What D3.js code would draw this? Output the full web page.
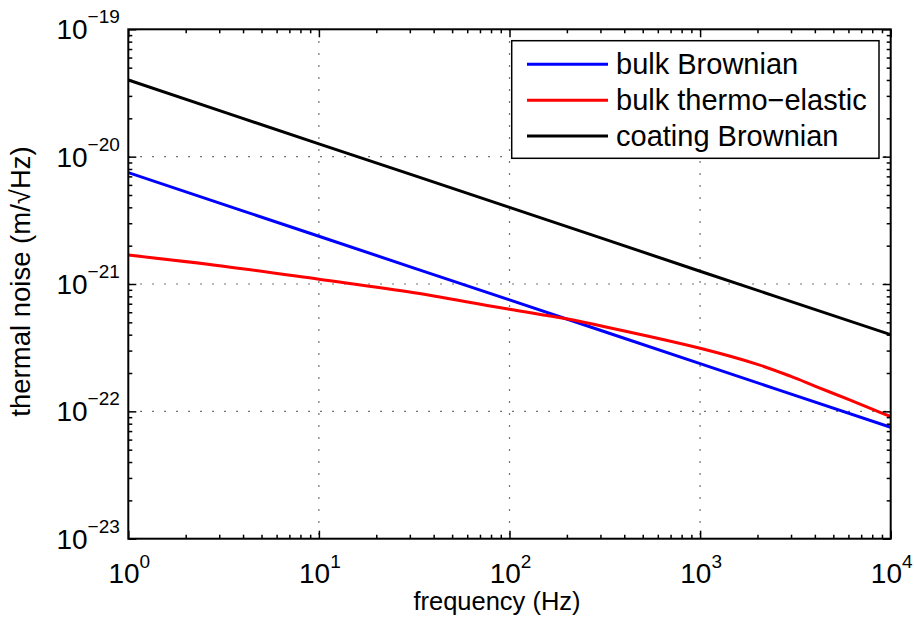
<!DOCTYPE html>
<html>
<head>
<meta charset="utf-8">
<script src="https://cdn.jsdelivr.net/npm/d3@7"></script>
<style>
  body { margin: 0; background: #fff; }
  svg { font-family: "Liberation Sans", Arial, sans-serif; }
</style>
</head>
<body>
<svg id="chart"></svg>
<script>
// decade frequencies for the straight power-law curves
const freq = [1, 10, 100, 1000, 10000];
const bulkBrownian = [7.5e-21, 2.37e-21, 7.5e-22, 2.37e-22, 7.5e-23];
const coatingBrownian = [4.0e-20, 1.26e-20, 4.0e-21, 1.26e-21, 4.0e-22];

// thermo-elastic curve bends, so more points
const thermoFreq = [1, 3.16, 10, 31.6, 100, 195, 316, 1000, 2000, 3000, 4000, 6000, 8000, 10000];
const thermoElastic = [1.69e-21, 1.38e-21, 1.09e-21, 8.55e-22, 6.33e-22, 5.35e-22, 4.62e-22,
                       3.13e-22, 2.34e-22, 1.88e-22, 1.58e-22, 1.24e-22, 1.04e-22, 9.1e-23];

const seriesNames = ['bulk Brownian', 'bulk thermo\u2212elastic', 'coating Brownian'];
const seriesColors = ['#0000ff', '#ff0000', '#000000'];

const xTickExp = [0, 1, 2, 3, 4];
const yTickExp = [-19, -20, -21, -22, -23];

const width = 914, height = 624;
const margin = {top: 29.3, right: 23.3, bottom: 85.3, left: 128.3};
const innerW = width - margin.left - margin.right;
const innerH = height - margin.top - margin.bottom;

const svg = d3.select('#chart')
    .attr('width', width)
    .attr('height', height);

const chart = svg.append('g')
    .attr('transform', `translate(${margin.left},${margin.top})`);

const xScale = d3.scaleLog().domain([1, 1e4]).range([0, innerW]);
const yScale = d3.scaleLog().domain([1e-23, 1e-19]).range([innerH, 0]);

// dotted grid at the decades
chart.append('g').selectAll('line')
    .data(xTickExp.slice(1, -1))
  .join('line')
    .attr('x1', d => xScale(Math.pow(10, d)))
    .attr('x2', d => xScale(Math.pow(10, d)))
    .attr('y1', 0).attr('y2', innerH)
    .attr('stroke', '#444').attr('stroke-width', 1.2)
    .attr('stroke-dasharray', '1.5,10.5');

chart.append('g').selectAll('line')
    .data(yTickExp.slice(1, -1))
  .join('line')
    .attr('y1', d => yScale(Math.pow(10, d)))
    .attr('y2', d => yScale(Math.pow(10, d)))
    .attr('x1', 0).attr('x2', innerW)
    .attr('stroke', '#444').attr('stroke-width', 1.2)
    .attr('stroke-dasharray', '1.5,10.5');

// curves
svg.append('defs').append('clipPath').attr('id', 'clip')
  .append('rect').attr('width', innerW).attr('height', innerH);

const line = d3.line()
    .x(d => xScale(d[0]))
    .y(d => yScale(d[1]))
    .curve(d3.curveCatmullRom.alpha(0.5));

const curves = [
  freq.map((f, i) => [f, bulkBrownian[i]]),
  thermoFreq.map((f, i) => [f, thermoElastic[i]]),
  freq.map((f, i) => [f, coatingBrownian[i]])
];

chart.append('g').attr('clip-path', 'url(#clip)')
  .selectAll('path')
    .data(curves)
  .join('path')
    .attr('d', line)
    .attr('fill', 'none')
    .attr('stroke', (d, i) => seriesColors[i])
    .attr('stroke-width', 3);

// ticks: major at decades, minor 2..9, inside on all four sides
const xMinor = [], yMinor = [];
for (let e = 0; e < 4; e++) for (let m = 2; m <= 9; m++) xMinor.push(m * Math.pow(10, e));
for (let e = -23; e < -19; e++) for (let m = 2; m <= 9; m++) yMinor.push(m * Math.pow(10, e));

const xMajor = xTickExp.map(e => Math.pow(10, e));
const yMajor = yTickExp.map(e => Math.pow(10, e));

const axes = chart.append('g').attr('class', 'axes');
[[d3.axisBottom(xScale).tickValues(xMajor).tickSize(-8), 0, innerH],
 [d3.axisBottom(xScale).tickValues(xMinor).tickSize(-4), 0, innerH],
 [d3.axisTop(xScale).tickValues(xMajor).tickSize(-8), 0, 0],
 [d3.axisTop(xScale).tickValues(xMinor).tickSize(-4), 0, 0],
 [d3.axisLeft(yScale).tickValues(yMajor).tickSize(-8), 0, 0],
 [d3.axisLeft(yScale).tickValues(yMinor).tickSize(-4), 0, 0],
 [d3.axisRight(yScale).tickValues(yMajor).tickSize(-8), innerW, 0],
 [d3.axisRight(yScale).tickValues(yMinor).tickSize(-4), innerW, 0]]
  .forEach(([ax, tx, ty]) => {
    const g = axes.append('g')
        .attr('transform', `translate(${tx},${ty})`)
        .call(ax.tickFormat(''));
    g.select('.domain').remove();
    g.selectAll('line').attr('stroke', '#000').attr('stroke-width', 1.5);
  });

// axis box
chart.append('rect')
    .attr('width', innerW).attr('height', innerH)
    .attr('fill', 'none').attr('stroke', '#000').attr('stroke-width', 2);

// tick labels 10^n
chart.append('g').selectAll('text')
    .data(xTickExp)
  .join('text')
    .attr('x', d => xScale(Math.pow(10, d)) + 1)
    .attr('y', innerH + 44.5)
    .attr('text-anchor', 'middle')
    .attr('font-size', 28)
    .attr('fill', '#000')
    .each(function(d) {
      const t = d3.select(this);
      t.append('tspan').text('10');
      t.append('tspan').attr('dy', -15).attr('font-size', 19).text(d);
    });

chart.append('g').selectAll('text')
    .data(yTickExp)
  .join('text')
    .attr('x', -8.5)
    .attr('y', d => yScale(Math.pow(10, d)) + 10)
    .attr('text-anchor', 'end')
    .attr('font-size', 28)
    .attr('fill', '#000')
    .each(function(d) {
      const t = d3.select(this);
      t.append('tspan').text('10');
      t.append('tspan').attr('dy', -16).attr('font-size', 19).text('\u2212' + Math.abs(d));
    });

// axis titles
svg.append('text')
    .attr('x', 497)
    .attr('y', 610)
    .attr('text-anchor', 'middle')
    .attr('font-size', 25.5)
    .text('frequency (Hz)');

svg.append('text')
    .attr('transform', `translate(29.5,281.5) rotate(-90)`)
    .attr('text-anchor', 'middle')
    .attr('font-size', 27.5)
    .text('thermal noise (m/\u221AHz)');

// legend
const legend = svg.append('g');
legend.append('rect')
    .attr('x', 511.7).attr('y', 40.7)
    .attr('width', 367.3).attr('height', 117.6)
    .attr('fill', '#fff').attr('stroke', '#000').attr('stroke-width', 1.5);

const rows = legend.selectAll('g.row')
    .data(seriesNames)
  .join('g')
    .attr('class', 'row')
    .attr('transform', (d, i) => `translate(0,${64.3 + i * 35.9})`);

rows.append('line')
    .attr('x1', 527).attr('x2', 608)
    .attr('stroke', (d, i) => seriesColors[i])
    .attr('stroke-width', 3);

rows.append('text')
    .attr('x', 616)
    .attr('y', 9.6)
    .attr('font-size', 29)
    .text(d => d);
</script>
</body>
</html>
